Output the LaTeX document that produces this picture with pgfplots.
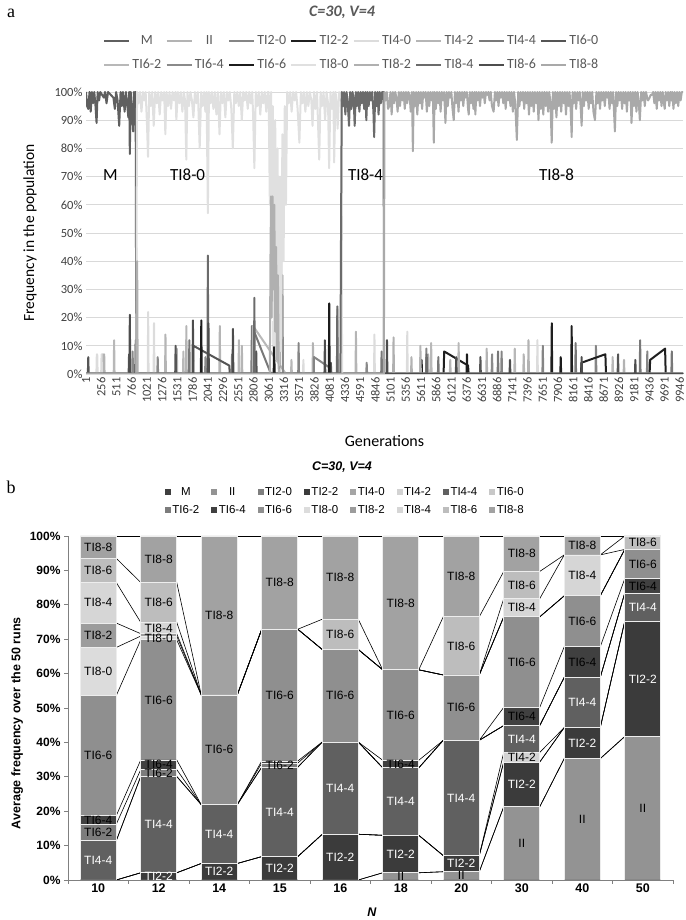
\documentclass[border=0pt]{standalone}
\usepackage{fontspec}
\setmainfont{Carlito}
\newfontfamily\arial{Liberation Sans}
\newfontfamily\serifa{Liberation Serif}
\usepackage{pgfplots}
\usepackage{pgfplotstable}
\pgfplotsset{compat=1.18}

% panel a line colours
\definecolor{aM}{HTML}{5F5F5F}
\definecolor{aII}{HTML}{B3B3B3}
\definecolor{a20}{HTML}{858585}
\definecolor{a22}{HTML}{1F1F1F}
\definecolor{a40}{HTML}{DCDCDC}
\definecolor{a42}{HTML}{B5B5B5}
\definecolor{a44}{HTML}{787878}
\definecolor{a60}{HTML}{555555}
\definecolor{a62}{HTML}{B8B8B8}
\definecolor{a64}{HTML}{8A8A8A}
\definecolor{a66}{HTML}{1C1C1C}
\definecolor{a80}{HTML}{E0E0E0}
\definecolor{a82}{HTML}{B0B0B0}
\definecolor{a84}{HTML}{6B6B6B}
\definecolor{a86}{HTML}{4D4D4D}
\definecolor{a88}{HTML}{A9A9A9}
% panel b fill colours
\definecolor{bM}{HTML}{3F3F3F}
\definecolor{bII}{HTML}{939393}
\definecolor{b20}{HTML}{7F7F7F}
\definecolor{b22}{HTML}{3B3B3B}
\definecolor{b40}{HTML}{A5A5A5}
\definecolor{b42}{HTML}{D3D3D3}
\definecolor{b44}{HTML}{606060}
\definecolor{b60}{HTML}{C8C8C8}
\definecolor{b62}{HTML}{7C7C7C}
\definecolor{b64}{HTML}{404040}
\definecolor{b66}{HTML}{8F8F8F}
\definecolor{b80}{HTML}{DCDCDC}
\definecolor{b82}{HTML}{9C9C9C}
\definecolor{b84}{HTML}{D6D6D6}
\definecolor{b86}{HTML}{BDBDBD}
\definecolor{b88}{HTML}{A2A2A2}

% panel b: cumulative tops of each segment (%), one row per N
\pgfplotstableread{
N  cM cII  c20  c22  c40  c42  c44  c60  c62  c64  c66  c80  c82  c84  c86  c88
10 0  0    0    0    0    0    11.4 11.4 16.2 18.7 53.6 67.6 74.7 86.5 93.5 100
12 0  0    0    2.1  2.1  2.1  30.1 30.1 32.1 34.9 69.8 70.9 71.6 74.9 86.5 100
14 0  0    0    4.8  4.8  4.8  21.9 21.9 21.9 21.9 53.8 53.8 53.8 53.8 53.8 100
15 0  0    0    6.8  6.8  6.8  32.8 32.8 34.0 34.6 72.9 72.9 72.9 72.9 72.9 100
16 0  0    0    13.3 13.3 13.3 40.1 40.1 40.1 40.1 67.0 67.0 67.0 67.0 75.8 100
18 0  2.1  2.1  13.0 13.0 13.0 32.6 32.6 32.6 34.8 61.1 61.1 61.1 61.1 61.1 100
20 0  2.4  2.4  7.1  7.1  7.1  40.6 40.6 40.6 40.6 59.6 59.6 59.6 59.6 76.5 100
30 0  21.3 21.3 34.3 34.3 37.1 44.9 44.9 44.9 50.2 76.5 76.5 76.5 81.8 89.7 100
40 0  35.3 35.3 44.3 44.3 44.3 58.9 58.9 58.9 67.8 82.6 82.6 82.6 94.5 94.5 100
50 0  41.7 41.7 75.2 75.2 75.2 83.4 83.4 83.4 87.6 96.1 96.1 96.1 96.1 100  100
}\cum

% step to the next bar, for the series lines
\newcommand\mkdiff[1]{%
  \pgfplotstablecreatecol[create col/assign/.code={%
      \ifnum\pgfplotstablerow<9
        \pgfmathparse{\nextrow{#1}-\thisrow{#1}}\let\dv\pgfmathresult
      \else\def\dv{0}\fi
      \pgfkeyslet{/pgfplots/table/create col/next content}\dv}]{d#1}{\cum}}
\mkdiff{cM}\mkdiff{cII}\mkdiff{c20}\mkdiff{c22}\mkdiff{c40}\mkdiff{c42}
\mkdiff{c44}\mkdiff{c60}\mkdiff{c62}\mkdiff{c64}\mkdiff{c66}\mkdiff{c80}
\mkdiff{c82}\mkdiff{c84}\mkdiff{c86}\mkdiff{c88}

\newcommand\sline[1]{\addplot[forget plot, black, line width=0.6pt,
    restrict x to domain=-1:9, quiver={u=0.405, v=\thisrow{d#1}}]
    table[x expr=\coordindex+0.2975, y=#1] \cum;}
\newcommand\seg[4]{\addplot[forget plot, draw=none, restrict y to domain=0:100,
    nodes near coords={#3},
    every node near coord/.append style={anchor=center, inner sep=0pt, text=#4,
      font=\arial\fontsize{12}{12}\selectfont}]
    table[x expr=\coordindex,
      y expr={(\thisrow{#2}-\thisrow{#1}>1) ? (\thisrow{#2}+\thisrow{#1})/2 : -50}] \cum;}

\begin{document}
\begin{tikzpicture}
\useasboundingbox (0,0) rectangle (685pt,920pt);
\node[font=\serifa\fontsize{18}{18}\selectfont] at (11pt,907pt) {a};
\node[font=\serifa\fontsize{18}{18}\selectfont] at (11pt,433pt) {b};
\node[font=\fontsize{16}{16}\selectfont\bfseries\itshape, text=black!65] at (342pt,908pt) {C=30, V=4};
\node[font=\arial\fontsize{12.5}{12.5}\selectfont\bfseries\itshape] at (342pt,453pt) {C=30, V=4};

% ---------------- panel a ----------------
\begin{axis}[
  at={(86pt,546pt)}, anchor=south west,
  scale only axis, width=597pt, height=282pt,
  xmin=1, xmax=10000, ymin=0, ymax=100,
  scaled x ticks=false, scaled y ticks=false,
  /pgf/number format/assume math mode=true,
  /pgf/number format/1000 sep={},
  xtick={1,256,511,766,1021,1276,1531,1786,2041,2296,2551,2806,3061,3316,3571,3826,4081,4336,4591,4846,5101,5356,5611,5866,6121,6376,6631,6886,7141,7396,7651,7906,8161,8416,8671,8926,9181,9436,9691,9946},
  ytick={0,10,...,100},
  yticklabels={0\%,10\%,20\%,30\%,40\%,50\%,60\%,70\%,80\%,90\%,100\%},
  x tick label style={rotate=90, anchor=east, font=\fontsize{12.5}{12.5}\selectfont, text=black!75},
  y tick label style={font=\fontsize{12.5}{12.5}\selectfont, text=black!75},
  axis x line*=bottom, axis y line*=left,
  y axis line style={draw=none},
  x axis line style={draw=black!25, line width=1pt},
  major tick length=0pt,
  ymajorgrids, grid style={draw=black!15, line width=0.9pt},
  xlabel={Generations}, ylabel={Frequency in the population},
  xlabel style={at={(axis description cs:0.5,-0.236)}, anchor=center, font=\fontsize{16}{16}\selectfont},
  ylabel style={at={(axis description cs:-0.094,0.5)}, anchor=center, font=\fontsize{15.5}{16}\selectfont},
  every axis plot/.append style={line width=2pt, line join=round},
  legend columns=8,
  legend style={at={(axis description cs:0.444,1.1383)}, anchor=center, draw=none, fill=none,
    font=\fontsize{14}{14}\selectfont, text=black!65, row sep=11pt,
    nodes={inner sep=1pt},
    /tikz/every odd column/.append style={column sep=1pt},
    /tikz/every even column/.append style={column sep=3pt}},
  legend image code/.code={\draw[#1, line width=2.6pt] (0pt,0pt) -- (25pt,0pt);},
]
\addplot[aM] coordinates {(1,100)(20,95)(39,94)(60,100)(80,93)(100,100)(120,96)(140,100)(160,95)(178,89)(196,100)(220,97)(240,100)(300,98)(320,100)(345,96)(370,100)(460,98)(484,94)(505,100)(530,97)(557,88)(580,100)(600,95)(620,100)(648,93)(670,100)(690,96)(710,91)(725,100)(735,78)(750,100)(770,93)(790,86)(805,100)(820,90)(830,100)(836,75)(842,0)(10000,0)};
\addlegendentry{M}
\addplot[aII] coordinates {(1,0)(275,0)(282,7)(289,0)(300,0)(306,7)(312,0)(1515,0)(1522,9)(1529,0)(3795,0)(3802,11)(3809,0)(5445,0)(5452,6)(5459,0)(6705,0)(6712,9)(6719,0)(7405,0)(7412,12)(7419,0)(9005,0)(9012,5)(9019,0)(10000,0)};
\addlegendentry{II}
\addplot[a20] coordinates {(1,0)(2440,0)(2447,7)(2454,0)(3555,0)(3562,11)(3569,0)(3815,0)(3820,6)(4100,2)(4110,0)(5695,0)(5702,9)(5709,0)(6955,0)(6962,8)(6969,0)(7645,0)(7652,10)(7659,0)(8535,0)(8542,10)(8549,0)(9395,0)(9402,8)(9409,0)(10000,0)};
\addlegendentry{TI2-0}
\addplot[a22] coordinates {(1,0)(5615,0)(5622,5)(5629,0)(5990,0)(6000,8)(6400,3)(6410,0)(7795,0)(7802,18)(7809,0)(8128,0)(8135,17)(8142,0)(8290,0)(8300,4)(8700,7)(8710,0)(9440,0)(9450,5)(9700,9)(9710,0)(10000,0)};
\addlegendentry{TI2-2}
\addplot[a40] coordinates {(1,0)(175,0)(182,7)(189,7)(196,0)(255,0)(262,7)(269,0)(1035,0)(1042,22)(1049,0)(1133,0)(1140,18)(1147,0)(3635,0)(3642,5)(3649,0)(4825,0)(4832,14)(4839,0)(5375,0)(5382,15)(5389,0)(7555,0)(7562,12)(7569,0)(10000,0)};
\addlegendentry{TI4-0}
\addplot[a42] coordinates {(1,0)(1325,0)(1332,14)(1339,0)(1675,0)(1682,17)(1689,0)(2235,0)(2242,17)(2249,0)(2605,0)(2612,10)(2619,0)(4205,0)(4212,23)(4219,0)(4515,0)(4522,15)(4529,0)(5595,0)(5602,10)(5609,0)(6095,0)(6102,5)(6109,0)(7325,0)(7332,7)(7339,0)(10000,0)};
\addlegendentry{TI4-2}
\addplot[a44] coordinates {(1,0)(1725,0)(1732,12)(1739,0)(2770,0)(2780,17)(3100,0)(4945,0)(4952,8)(4959,0)(5895,0)(5902,6)(5909,0)(6895,0)(6902,8)(6909,0)(8195,0)(8202,11)(8209,0)(9275,0)(9282,12)(9289,0)(9805,0)(9812,8)(9819,0)(10000,0)};
\addlegendentry{TI4-4}
\addplot[a60] coordinates {(1,0)(32,0)(39,6)(46,0)(715,0)(722,7)(729,0)(1495,0)(1502,10)(1509,0)(1795,0)(1800,10)(2400,3)(2410,0)(2845,0)(2852,8)(2859,0)(4095,0)(4102,4)(4109,0)(6600,0)(6607,6)(6614,0)(8905,0)(8912,7)(8919,0)(10000,0)};
\addlegendentry{TI6-0}
\addplot[a62] coordinates {(1,0)(465,0)(472,12)(479,0)(1625,0)(1632,8)(1639,0)(2555,0)(2562,12)(2569,0)(2795,0)(2800,17)(3350,0)(3435,0)(3442,5)(3449,0)(5775,0)(5782,11)(5789,0)(6235,0)(6242,11)(6249,0)(7175,0)(7182,9)(7189,0)(8815,0)(8822,6)(8829,0)(10000,0)};
\addlegendentry{TI6-2}
\addplot[a64] coordinates {(1,0)(775,0)(782,8)(789,0)(1195,0)(1202,6)(1209,0)(1995,0)(2002,6)(2009,0)(3240,0)(3255,30)(3267,54)(3275,10)(3290,35)(3300,0)(4695,0)(4702,4)(4709,0)(6795,0)(6802,7)(6809,0)(10000,0)};
\addlegendentry{TI6-4}
\addplot[a66] coordinates {(1,0)(828,0)(835,12)(842,0)(1925,0)(1932,19)(1939,0)(3145,0)(3152,28)(3159,0)(4068,0)(4075,25)(4082,0)(6375,0)(6382,7)(6389,0)(7945,0)(7952,6)(7959,0)(10000,0)};
\addlegendentry{TI6-6}
\addplot[a80] coordinates {(1,0)(845,0)(850,60)(856,100)(880,96)(905,100)(930,93)(955,100)(980,97)(1000,100)(1020,90)(1040,77)(1060,100)(1085,95)(1110,100)(1135,88)(1160,100)(1185,96)(1210,100)(1235,92)(1260,100)(1285,97)(1310,100)(1330,85)(1350,100)(1375,95)(1400,100)(1425,94)(1450,100)(1475,97)(1500,100)(1514,90)(1540,100)(1565,96)(1590,100)(1615,93)(1640,100)(1660,97)(1681,76)(1700,100)(1725,95)(1750,100)(1775,97)(1800,91)(1825,100)(1850,96)(1875,100)(1905,80)(1930,100)(1955,95)(1980,100)(2000,93)(2020,100)(2042,57)(2060,100)(2085,96)(2110,100)(2135,94)(2160,100)(2185,92)(2210,100)(2237,85)(2260,100)(2285,96)(2310,100)(2335,91)(2360,100)(2385,97)(2410,100)(2435,94)(2460,80)(2485,100)(2510,96)(2535,100)(2560,95)(2585,100)(2610,90)(2635,100)(2660,97)(2685,100)(2710,94)(2735,100)(2760,96)(2785,100)(2800,92)(2821,73)(2845,100)(2870,95)(2895,100)(2920,92)(2945,100)(2970,96)(2995,100)(3020,93)(3045,100)(3060,100)(3080,60)(3100,100)(3110,20)(3130,95)(3150,10)(3170,90)(3190,5)(3210,80)(3230,3)(3250,70)(3270,8)(3290,85)(3310,40)(3330,95)(3350,60)(3370,100)(3395,96)(3420,100)(3445,93)(3470,100)(3495,97)(3520,100)(3545,94)(3575,82)(3600,100)(3625,96)(3650,100)(3675,93)(3700,100)(3725,95)(3750,100)(3775,97)(3795,88)(3820,100)(3845,94)(3870,100)(3907,76)(3930,100)(3955,95)(3980,100)(4005,90)(4030,100)(4055,96)(4073,73)(4095,100)(4120,94)(4145,100)(4157,75)(4180,100)(4200,96)(4215,87)(4240,100)(4260,97)(4280,100)(4290,0)(10000,0)};
\addlegendentry{TI8-0}
\addplot[a82] coordinates {(1,0)(850,0)(858,40)(866,0)(3080,0)(3090,40)(3100,63)(3110,20)(3125,63)(3140,30)(3155,60)(3170,15)(3185,45)(3200,5)(3215,35)(3230,0)(5145,0)(5152,13)(5159,0)(5725,0)(5732,7)(5739,0)(10000,0)};
\addlegendentry{TI8-2}
\addplot[a84] coordinates {(1,0)(2035,0)(2042,42)(2049,0)(2814,0)(2821,27)(2828,0)(4203,0)(4210,24)(4217,0)(4262,0)(4270,40)(4285,100)(4305,95)(4325,100)(4345,92)(4365,100)(4385,96)(4406,88)(4425,100)(4445,94)(4465,100)(4485,97)(4501,88)(4520,100)(4540,95)(4560,100)(4580,93)(4600,100)(4620,96)(4640,100)(4660,94)(4680,100)(4696,90)(4715,100)(4735,95)(4755,100)(4775,97)(4795,100)(4815,93)(4827,84)(4845,100)(4865,95)(4885,100)(4901,92)(4920,100)(4940,96)(4960,100)(4985,100)(4992,0)(5700,0)(5707,7)(5714,0)(10000,0)};
\addlegendentry{TI8-4}
\addplot[a86] coordinates {(1,0)(728,0)(735,21)(742,0)(1785,0)(1792,19)(1799,0)(2045,0)(2052,18)(2059,0)(2455,0)(2462,16)(2469,0)(3995,0)(4002,12)(4009,0)(5035,0)(5042,12)(5049,0)(6195,0)(6202,6)(6209,0)(7095,0)(7102,5)(7109,0)(8295,0)(8302,6)(8309,0)(9195,0)(9202,5)(9209,0)(10000,0)};
\addlegendentry{TI8-6}
\addplot[a88] coordinates {(1,0)(4990,0)(5000,100)(5020,97)(5040,100)(5060,94)(5080,95)(5100,100)(5120,92)(5140,100)(5160,96)(5180,100)(5200,98)(5220,93)(5240,100)(5260,95)(5280,100)(5300,97)(5320,100)(5340,94)(5360,100)(5380,96)(5400,100)(5420,99)(5440,93)(5460,100)(5476,79)(5490,100)(5510,95)(5530,100)(5550,92)(5570,100)(5590,96)(5610,100)(5630,94)(5650,100)(5670,98)(5690,100)(5710,93)(5730,100)(5750,95)(5770,100)(5790,97)(5810,100)(5826,82)(5840,100)(5860,94)(5880,100)(5900,96)(5920,100)(5940,93)(5960,100)(5980,97)(6000,100)(6021,89)(6040,100)(6060,95)(6080,100)(6100,98)(6120,100)(6140,94)(6160,90)(6180,100)(6200,96)(6220,100)(6240,93)(6260,100)(6280,97)(6300,100)(6320,95)(6340,100)(6360,98)(6380,100)(6400,94)(6411,92)(6430,100)(6450,96)(6470,100)(6490,94)(6510,100)(6522,92)(6540,100)(6560,97)(6580,100)(6600,95)(6620,100)(6640,98)(6660,100)(6680,96)(6700,100)(6720,99)(6740,100)(6760,97)(6780,100)(6800,95)(6828,93)(6850,100)(6870,97)(6890,100)(6910,95)(6930,100)(6950,98)(6970,100)(6990,96)(7010,100)(7030,94)(7050,100)(7070,97)(7090,100)(7110,95)(7130,100)(7150,93)(7170,100)(7190,96)(7217,83)(7240,100)(7260,95)(7280,100)(7300,97)(7320,100)(7340,94)(7360,100)(7380,96)(7400,100)(7420,92)(7440,100)(7460,95)(7480,100)(7500,93)(7520,100)(7540,96)(7560,100)(7579,90)(7600,100)(7620,94)(7640,100)(7660,92)(7680,100)(7700,95)(7720,100)(7740,93)(7760,100)(7780,96)(7801,82)(7820,100)(7840,94)(7860,100)(7880,91)(7900,100)(7920,95)(7940,100)(7960,93)(7980,100)(8000,96)(8020,100)(8040,92)(8060,100)(8080,95)(8100,100)(8120,93)(8135,84)(8150,100)(8170,96)(8190,100)(8210,94)(8230,100)(8250,97)(8270,100)(8290,93)(8302,88)(8320,100)(8340,95)(8360,100)(8380,97)(8400,100)(8420,94)(8440,100)(8460,96)(8480,100)(8500,93)(8525,90)(8550,100)(8570,96)(8590,100)(8610,94)(8630,100)(8650,97)(8670,100)(8690,95)(8710,100)(8730,98)(8750,100)(8770,94)(8790,100)(8810,96)(8830,100)(8859,86)(8880,100)(8900,95)(8920,100)(8940,97)(8960,100)(8980,94)(9000,100)(9020,96)(9040,100)(9060,93)(9080,100)(9100,97)(9120,100)(9137,89)(9160,100)(9180,95)(9200,100)(9220,93)(9240,100)(9260,96)(9277,90)(9300,100)(9320,97)(9340,100)(9360,95)(9380,100)(9400,98)(9416,97)(9440,98)(9460,99)(9480,99)(9500,100)(9520,96)(9540,100)(9560,94)(9580,100)(9600,97)(9620,100)(9640,95)(9660,100)(9680,96)(9694,94)(9710,100)(9730,97)(9750,100)(9770,95)(9790,100)(9805,97)(9820,100)(9840,94)(9860,100)(9880,96)(9900,100)(9920,95)(9940,100)(9960,97)(9980,100)(10000,100)};
\addlegendentry{TI8-8}
\node[font=\fontsize{17}{17}\selectfont, anchor=west] at (axis cs:230,70.5) {M};
\node[font=\fontsize{17}{17}\selectfont, anchor=west] at (axis cs:1350,70.5) {TI8-0};
\node[font=\fontsize{17}{17}\selectfont, anchor=west] at (axis cs:4330,70.5) {TI8-4};
\node[font=\fontsize{17}{17}\selectfont, anchor=west] at (axis cs:7530,70.5) {TI8-8};
\end{axis}

% ---------------- panel b ----------------
\begin{axis}[
  at={(68pt,40pt)}, anchor=south west,
  scale only axis, width=605pt, height=344pt,
  xmin=-0.5, xmax=9.5, ymin=0, ymax=100,
  /pgf/number format/assume math mode=true,
  xtick={-0.5,0.5,...,9.5}, xticklabels={},
  extra x ticks={0,1,2,3,4,5,6,7,8,9},
  extra x tick labels={10,12,14,15,16,18,20,30,40,50},
  extra x tick style={major tick length=0pt,
    tick label style={font=\arial\bfseries\fontsize{12.5}{12.5}\selectfont}},
  ytick={0,10,...,100},
  yticklabels={0\%,10\%,20\%,30\%,40\%,50\%,60\%,70\%,80\%,90\%,100\%},
  y tick label style={font=\arial\bfseries\fontsize{12}{12}\selectfont},
  axis x line*=bottom, axis y line*=left,
  axis line style={draw=black!50, line width=0.8pt},
  tick style={draw=black!50, line width=0.8pt},
  tick align=outside, major tick length=4pt,
  xlabel={\textbf{\textit{N}}}, ylabel={Average frequency over the 50 runs},
  xlabel style={at={(axis description cs:0.5025,-0.093)}, anchor=center, font=\arial\fontsize{12.5}{12.5}\selectfont},
  ylabel style={at={(axis description cs:-0.084,0.456)}, anchor=center, font=\arial\bfseries\fontsize{12.5}{13}\selectfont},
  bst/.style={ybar, bar width=36pt, bar shift=0pt, draw=white!93!black, line width=0.8pt,
    legend image code/.code={\fill[##1, draw=none] (0pt,-3pt) rectangle (6pt,3pt);}},
  legend columns=8, reverse legend,
  legend style={at={(axis description cs:0.458,1.1017)}, anchor=center, draw=none, fill=none,
    font=\arial\fontsize{11.5}{11.5}\selectfont, row sep=5pt,
    nodes={inner sep=1.5pt},
    /tikz/every even column/.append style={column sep=10.5pt}},
]
\sline{cM}\sline{cII}\sline{c20}\sline{c22}\sline{c40}\sline{c42}\sline{c44}\sline{c60}
\sline{c62}\sline{c64}\sline{c66}\sline{c80}\sline{c82}\sline{c84}\sline{c86}\sline{c88}
\addplot[bst, fill=b88] table[x expr=\coordindex, y=c88] \cum; \addlegendentry{TI8-8}
\addplot[bst, fill=b86] table[x expr=\coordindex, y=c86] \cum; \addlegendentry{TI8-6}
\addplot[bst, fill=b84] table[x expr=\coordindex, y=c84] \cum; \addlegendentry{TI8-4}
\addplot[bst, fill=b82] table[x expr=\coordindex, y=c82] \cum; \addlegendentry{TI8-2}
\addplot[bst, fill=b80] table[x expr=\coordindex, y=c80] \cum; \addlegendentry{TI8-0}
\addplot[bst, fill=b66] table[x expr=\coordindex, y=c66] \cum; \addlegendentry{TI6-6}
\addplot[bst, fill=b64] table[x expr=\coordindex, y=c64] \cum; \addlegendentry{TI6-4}
\addplot[bst, fill=b62] table[x expr=\coordindex, y=c62] \cum; \addlegendentry{TI6-2}
\addplot[bst, fill=b60] table[x expr=\coordindex, y=c60] \cum; \addlegendentry{TI6-0}
\addplot[bst, fill=b44] table[x expr=\coordindex, y=c44] \cum; \addlegendentry{TI4-4}
\addplot[bst, fill=b42] table[x expr=\coordindex, y=c42] \cum; \addlegendentry{TI4-2}
\addplot[bst, fill=b40] table[x expr=\coordindex, y=c40] \cum; \addlegendentry{TI4-0}
\addplot[bst, fill=b22] table[x expr=\coordindex, y=c22] \cum; \addlegendentry{TI2-2}
\addplot[bst, fill=b20] table[x expr=\coordindex, y=c20] \cum; \addlegendentry{TI2-0}
\addplot[bst, fill=bII] table[x expr=\coordindex, y=cII] \cum; \addlegendentry{II}
\addplot[bst, fill=bM] table[x expr=\coordindex, y=cM] \cum; \addlegendentry{M}
\seg{cM}{cII}{II}{black}
\seg{c20}{c22}{TI2-2}{white}
\seg{c40}{c42}{TI4-2}{black}
\seg{c42}{c44}{TI4-4}{white}
\seg{c60}{c62}{TI6-2}{black}
\seg{c62}{c64}{TI6-4}{black}
\seg{c64}{c66}{TI6-6}{black}
\seg{c66}{c80}{TI8-0}{black}
\seg{c80}{c82}{TI8-2}{black}
\seg{c82}{c84}{TI8-4}{black}
\seg{c84}{c86}{TI8-6}{black}
\seg{c86}{c88}{TI8-8}{black}
\end{axis}
\end{tikzpicture}
\end{document}
